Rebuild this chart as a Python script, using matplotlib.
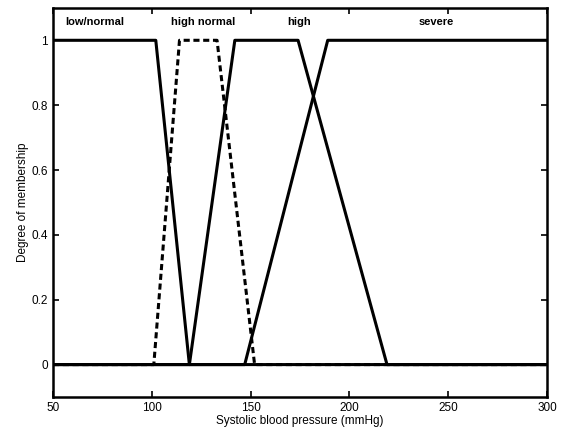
import matplotlib
matplotlib.use("Agg")
import matplotlib.pyplot as plt

plt.rcParams['font.family'] = ['Liberation Sans', 'DejaVu Sans']

# Membership function breakpoints (systolic blood pressure, mmHg)
low_x = [50, 102, 119, 300]
low_y = [1, 1, 0, 0]
hn_x = [50, 101, 114, 133, 152, 300]
hn_y = [0, 0, 1, 1, 0, 0]
high_x = [50, 119, 142, 174, 219, 300]
high_y = [0, 0, 1, 1, 0, 0]
sev_x = [50, 147, 189, 300]
sev_y = [0, 0, 1, 1]

labels = ["low/normal", "high normal", "high", "severe"]
label_x = [71, 126, 174.5, 244]
label_y = 1.055

xticks = [50, 100, 150, 200, 250, 300]
yticks = [0, 0.2, 0.4, 0.6, 0.8, 1]
ytick_labels = ["0", "0.2", "0.4", "0.6", "0.8", "1"]

fig = plt.figure(figsize=(5.64, 4.37), dpi=100)
ax = fig.add_axes([0.094, 0.0915, 0.876, 0.8905])

ax.plot(low_x, low_y, color='black', lw=2.2)
ax.plot(hn_x, hn_y, color='black', lw=2.2, ls=(0, (2, 1.2)))
ax.plot(high_x, high_y, color='black', lw=2.2)
ax.plot(sev_x, sev_y, color='black', lw=2.2)

for t, x in zip(labels, label_x):
    ax.text(x, label_y, t, ha='center', va='center', fontsize=8, fontweight='bold')

ax.set_xlim(50, 300)
ax.set_ylim(-0.1, 1.1)
ax.set_xticks(xticks)
ax.set_yticks(yticks)
ax.set_yticklabels(ytick_labels)
ax.tick_params(direction='in', top=True, right=True, labelsize=8.5, length=4, width=1.2)
for s in ax.spines.values():
    s.set_linewidth(1.8)

ax.set_xlabel("Systolic blood pressure (mmHg)", fontsize=8.5, labelpad=1)
ax.set_ylabel("Degree of membership", fontsize=8.5, labelpad=2)

fig.savefig("out.png", dpi=100)
